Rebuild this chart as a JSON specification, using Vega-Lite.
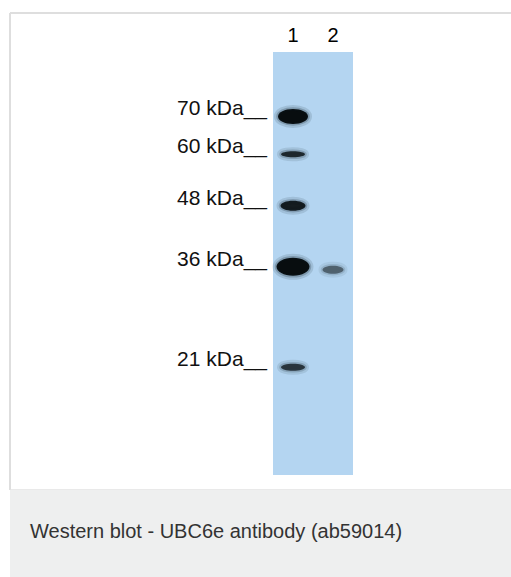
{
  "$schema": "https://vega.github.io/schema/vega-lite/v6.json",
  "padding": {"left": 9, "top": 12, "right": 0, "bottom": 0},
  "background": "white",
  "config": {"view": {"stroke": null}, "font": "Liberation Sans"},
  "datasets": {
    "bands": [
      {"lane": 1, "kDa": 70, "band": "L1-70", "intensity": 1.0, "marker": "70 kDa__"},
      {"lane": 1, "kDa": 60, "band": "L1-60", "intensity": 0.85, "marker": "60 kDa__"},
      {"lane": 1, "kDa": 48, "band": "L1-48", "intensity": 0.92, "marker": "48 kDa__"},
      {"lane": 1, "kDa": 36, "band": "L1-36", "intensity": 1.0, "marker": "36 kDa__"},
      {"lane": 1, "kDa": 21, "band": "L1-21", "intensity": 0.78, "marker": "21 kDa__"},
      {"lane": 2, "kDa": 35.5, "band": "L2-36", "intensity": 0.55, "marker": null}
    ],
    "lanes": [
      {"lane": 1, "label": "1"},
      {"lane": 2, "label": "2"}
    ],
    "caption": [
      {"caption": "Western blot - UBC6e antibody (ab59014)"}
    ]
  },
  "spacing": 0,
  "bounds": "flush",
  "vconcat": [
    {
      "width": 501,
      "height": 477,
      "view": {"stroke": null, "fill": "white"},
      "encoding": {
        "shape": {
          "field": "band", "type": "nominal", "legend": null,
          "scale": {
            "domain": ["L1-70", "L1-60", "L1-48", "L1-36", "L1-21", "L2-36"],
            "range": [
              "M1.5,0C1.5,0.414 0.828,0.75 0,0.75C-0.828,0.75 -1.5,0.414 -1.5,0C-1.5,-0.414 -0.828,-0.75 0,-0.75C0.828,-0.75 1.5,-0.414 1.5,0Z",
              "M1.2,0C1.2,0.166 0.663,0.3 0,0.3C-0.663,0.3 -1.2,0.166 -1.2,0C-1.2,-0.166 -0.663,-0.3 0,-0.3C0.663,-0.3 1.2,-0.166 1.2,0Z",
              "M1.25,0C1.25,0.276 0.69,0.5 0,0.5C-0.69,0.5 -1.25,0.276 -1.25,0C-1.25,-0.276 -0.69,-0.5 0,-0.5C0.69,-0.5 1.25,-0.276 1.25,0Z",
              "M1.65,0C1.65,0.497 0.911,0.9 0,0.9C-0.911,0.9 -1.65,0.497 -1.65,0C-1.65,-0.497 -0.911,-0.9 0,-0.9C0.911,-0.9 1.65,-0.497 1.65,0Z",
              "M1.2,0C1.2,0.193 0.663,0.35 0,0.35C-0.663,0.35 -1.2,0.193 -1.2,0C-1.2,-0.193 -0.663,-0.35 0,-0.35C0.663,-0.35 1.2,-0.193 1.2,0Z",
              "M1.05,0C1.05,0.221 0.58,0.4 0,0.4C-0.58,0.4 -1.05,0.221 -1.05,0C-1.05,-0.221 -0.58,-0.4 0,-0.4C0.58,-0.4 1.05,-0.221 1.05,0Z"
            ]
          }
        }
      },
      "layer": [
        {
          "data": {"values": [{"gel": "membrane"}]},
          "mark": {"type": "rect", "color": "#b4d5f1"},
          "encoding": {
            "shape": null,
            "x": {"datum": 0.5, "type": "quantitative", "scale": {"domain": [-6.075, 6.45], "nice": false, "zero": false}, "axis": null},
            "x2": {"datum": 2.5},
            "y": {"datum": 89.6, "type": "quantitative", "scale": {"type": "pow", "exponent": 0.32, "domain": [9.276, 103.1], "nice": false, "zero": false}, "axis": null},
            "y2": {"datum": 10.38}
          }
        },
        {
          "data": {"values": [{"edge": "top"}]},
          "mark": {"type": "rule", "color": "#dedede", "strokeWidth": 2},
          "encoding": {
            "shape": null,
            "x": {"datum": -6.075, "type": "quantitative"},
            "x2": {"datum": 6.45},
            "y": {"datum": 103.1, "type": "quantitative"}
          }
        },
        {
          "data": {"values": [{"edge": "left"}]},
          "mark": {"type": "rule", "color": "#dedede", "strokeWidth": 2},
          "encoding": {
            "shape": null,
            "x": {"datum": -6.075, "type": "quantitative"},
            "y": {"datum": 9.276, "type": "quantitative"},
            "y2": {"datum": 103.1}
          }
        },
        {
          "data": {"values": [{"edge": "bottom"}]},
          "mark": {"type": "rule", "color": "#e2e2e2", "strokeWidth": 1.5},
          "encoding": {
            "shape": null,
            "x": {"datum": -6.075, "type": "quantitative"},
            "x2": {"datum": 6.45},
            "y": {"datum": 9.276, "type": "quantitative"}
          }
        },
        {
          "data": {"name": "bands"},
          "mark": {
            "type": "point",
            "filled": true,
            "size": 400,
            "fill": "#080d0f",
            "fillOpacity": 0,
            "stroke": "#0a1820",
            "strokeWidth": 8,
            "strokeOpacity": 0.12
          },
          "encoding": {
            "x": {"field": "lane", "type": "quantitative"},
            "y": {"field": "kDa", "type": "quantitative"},
            "opacity": {"field": "intensity", "type": "quantitative", "legend": null, "scale": {"domain": [0, 1], "range": [0, 1]}}
          }
        },
        {
          "data": {"name": "bands"},
          "mark": {
            "type": "point",
            "filled": true,
            "size": 400,
            "fill": "#080d0f",
            "stroke": "#0a1820",
            "strokeWidth": 3.5,
            "strokeOpacity": 0.22
          },
          "encoding": {
            "x": {"field": "lane", "type": "quantitative"},
            "y": {"field": "kDa", "type": "quantitative"},
            "opacity": {"field": "intensity", "type": "quantitative", "legend": null, "scale": {"domain": [0, 1], "range": [0, 1]}}
          }
        },
        {
          "data": {"name": "bands"},
          "transform": [{"filter": "isValid(datum.marker)"}],
          "mark": {"type": "text", "align": "right", "baseline": "alphabetic", "dx": -26, "dy": -1, "fontSize": 21, "color": "#111111"},
          "encoding": {
            "shape": null,
            "x": {"field": "lane", "type": "quantitative"},
            "y": {"field": "kDa", "type": "quantitative"},
            "text": {"field": "marker"}
          }
        },
        {
          "data": {"name": "lanes"},
          "mark": {"type": "text", "align": "center", "baseline": "middle", "dy": -16, "fontSize": 20, "color": "#000000"},
          "encoding": {
            "shape": null,
            "x": {"field": "lane", "type": "quantitative"},
            "y": {"datum": 89.6, "type": "quantitative"},
            "text": {"field": "label"}
          }
        }
      ]
    },
    {
      "width": 501,
      "height": 87,
      "view": {"stroke": null, "fill": "#eeefef"},
      "data": {"name": "caption"},
      "mark": {"type": "text", "align": "left", "baseline": "alphabetic", "dx": -230.5, "dy": 4.5, "fontSize": 20, "color": "#333333"},
      "encoding": {
        "text": {"field": "caption"}
      }
    }
  ]
}
